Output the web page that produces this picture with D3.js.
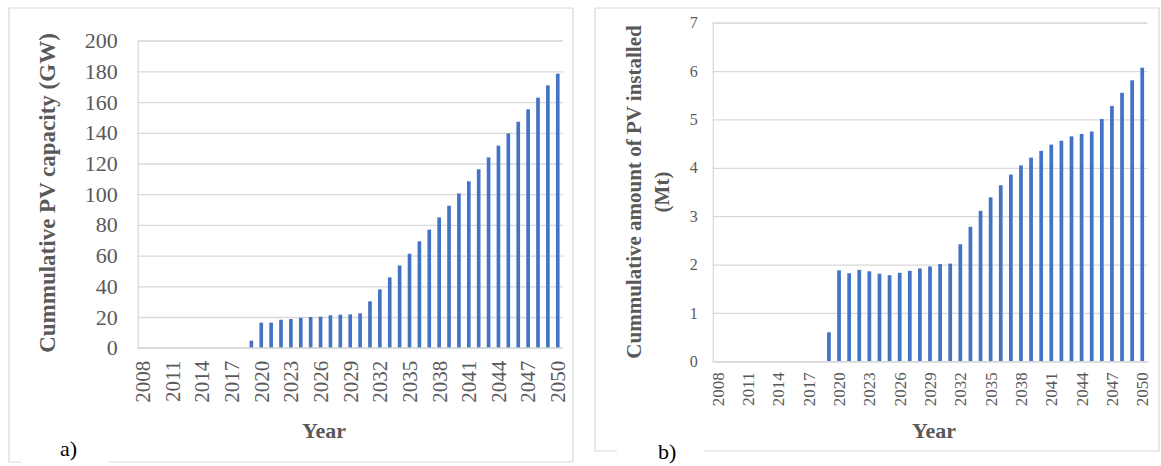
<!DOCTYPE html>
<html>
<head>
<meta charset="utf-8">
<script src="https://cdn.jsdelivr.net/npm/d3@7"></script>
<style>
  body { margin: 0; background: #fff; }
  text { font-family: "Liberation Serif", "Times New Roman", serif; }
</style>
</head>
<body>
<svg id="chart" width="1161" height="466"></svg>
<script>
// data
var years = [2008, 2009, 2010, 2011, 2012, 2013, 2014, 2015, 2016, 2017, 2018,
  2019, 2020, 2021, 2022, 2023, 2024, 2025, 2026, 2027, 2028, 2029, 2030,
  2031, 2032, 2033, 2034, 2035, 2036, 2037, 2038, 2039, 2040, 2041, 2042,
  2043, 2044, 2045, 2046, 2047, 2048, 2049, 2050];

// a) cumulative PV capacity, GW
var capacityGW = [0, 0, 0, 0, 0, 0, 0, 0, 0, 0, 0,
  4.6, 16.3, 16.3, 18.2, 18.7, 19.5, 20.0, 20.2, 21.1, 21.5, 21.7, 22.4,
  30.2, 38.0, 45.8, 53.6, 61.2, 69.3, 76.9, 84.9, 92.5, 100.5, 108.4, 116.2,
  124.0, 131.6, 139.6, 147.2, 155.3, 162.9, 170.9, 178.5];

// b) cumulative amount of PV installed, Mt
var massMt = [0, 0, 0, 0, 0, 0, 0, 0, 0, 0, 0,
  0.60, 1.88, 1.82, 1.89, 1.86, 1.81, 1.78, 1.83, 1.87, 1.92, 1.96, 2.01,
  2.02, 2.42, 2.78, 3.11, 3.39, 3.64, 3.86, 4.05, 4.21, 4.35, 4.48, 4.56,
  4.65, 4.70, 4.75, 5.01, 5.28, 5.55, 5.81, 6.07];

var ticksA = [0, 20, 40, 60, 80, 100, 120, 140, 160, 180, 200];
var ticksB = [0, 1, 2, 3, 4, 5, 6, 7];
var yearLabels = [2008, 2011, 2014, 2017, 2020, 2023, 2026, 2029, 2032, 2035, 2038, 2041, 2044, 2047, 2050];

var svg = d3.select("#chart");
var barColor = "#4472c4";
var gridColor = "#d9d9d9";
var tickColor = "#595959";

function drawPanel(p) {
  var g = svg.append("g");

  // outer frame, with a gap in the bottom edge for the panel letter
  g.append("path")
    .attr("d", "M" + p.gapR + "," + p.frame.b + " H" + p.frame.r + " V" + p.frame.t +
      " H" + p.frame.l + " V" + p.frame.b + " H" + p.gapL)
    .attr("fill", "none")
    .attr("stroke", gridColor)
    .attr("stroke-width", 1.2);

  var x = d3.scaleBand()
    .domain(years)
    .range([p.left, p.right])
    .paddingInner(0.63)
    .paddingOuter(0.315);

  var y = d3.scaleLinear()
    .domain([0, d3.max(p.ticks)])
    .range([p.bottom, p.top]);

  // gridlines + y labels
  var yAxis = d3.axisLeft(y)
    .tickValues(p.ticks)
    .tickSize(-(p.right - p.left))
    .tickPadding(p.yPad)
    .tickFormat(d3.format("d"));

  var ya = g.append("g")
    .attr("transform", "translate(" + p.left + ",0)")
    .call(yAxis);
  ya.select(".domain").attr("stroke", gridColor).attr("stroke-width", 1.2);
  ya.selectAll(".tick line").attr("stroke", gridColor).attr("stroke-width", 1.3);
  ya.selectAll(".tick text")
    .attr("fill", tickColor)
    .style("font-size", p.yFont + "px")
    .style("font-family", "Liberation Serif");

  // bars
  g.selectAll("rect.bar")
    .data(p.values)
    .enter().append("rect")
    .attr("class", "bar")
    .attr("x", function(d, i) { return x(years[i]); })
    .attr("width", x.bandwidth())
    .attr("y", function(d) { return y(d); })
    .attr("height", function(d) { return p.bottom - y(d); })
    .attr("fill", barColor);

  // x axis
  var xAxis = d3.axisBottom(x)
    .tickValues(yearLabels)
    .tickSize(0)
    .tickPadding(0);

  var xa = g.append("g")
    .attr("transform", "translate(0," + p.bottom + ")")
    .call(xAxis);
  xa.select(".domain").attr("stroke", gridColor).attr("stroke-width", 1.5);
  xa.selectAll(".tick text")
    .attr("fill", tickColor)
    .style("font-size", p.xFont + "px")
    .style("font-family", "Liberation Serif")
    .attr("text-anchor", "end")
    .attr("transform", "rotate(-90)")
    .attr("x", -p.xPad)
    .attr("y", 0)
    .attr("dy", "0.35em");

  // y title
  var yt = g.append("text")
    .attr("transform", "translate(" + p.yTitleX + "," + p.yTitleY + ") rotate(-90)")
    .attr("text-anchor", "middle")
    .attr("fill", tickColor)
    .attr("font-weight", "bold")
    .style("font-size", p.yTitleFont + "px");
  p.yTitle.forEach(function(line, i) {
    yt.append("tspan")
      .attr("x", 0)
      .attr("y", i * p.yTitleGap)
      .attr("dy", "0.35em")
      .text(line);
  });

  g.append("text")
    .attr("x", p.xTitleX)
    .attr("y", 438)
    .attr("text-anchor", "middle")
    .attr("fill", tickColor)
    .attr("font-weight", "bold")
    .style("font-size", "22px")
    .text("Year");

  g.append("text")
    .attr("x", p.letterX)
    .attr("y", p.letterY)
    .attr("fill", "#000")
    .style("font-size", "22px")
    .text(p.letter);
}

drawPanel({
  values: capacityGW, ticks: ticksA,
  frame: { l: 9, r: 573, t: 8, b: 462 }, gapL: 21, gapR: 108,
  left: 137.7, right: 562.7, top: 40.7, bottom: 347.7,
  yFont: 22, yPad: 20, xFont: 21, xPad: 13,
  yTitle: ["Cummulative PV capacity (GW)"], yTitleX: 47, yTitleY: 193, yTitleFont: 23, yTitleGap: 0,
  xTitleX: 324, letter: "a)", letterX: 60, letterY: 456
});

drawPanel({
  values: massMt, ticks: ticksB,
  frame: { l: 595, r: 1159, t: 8, b: 451 }, gapL: 617, gapR: 704,
  left: 712.7, right: 1147.3, top: 22.7, bottom: 361.3,
  yFont: 16, yPad: 15, xFont: 17, xPad: 11,
  yTitle: ["Cummulative amount of PV installed", "(Mt)"], yTitleX: 634, yTitleY: 192, yTitleFont: 21, yTitleGap: 28,
  xTitleX: 934, letter: "b)", letterX: 658, letterY: 459
});
</script>
</body>
</html>
